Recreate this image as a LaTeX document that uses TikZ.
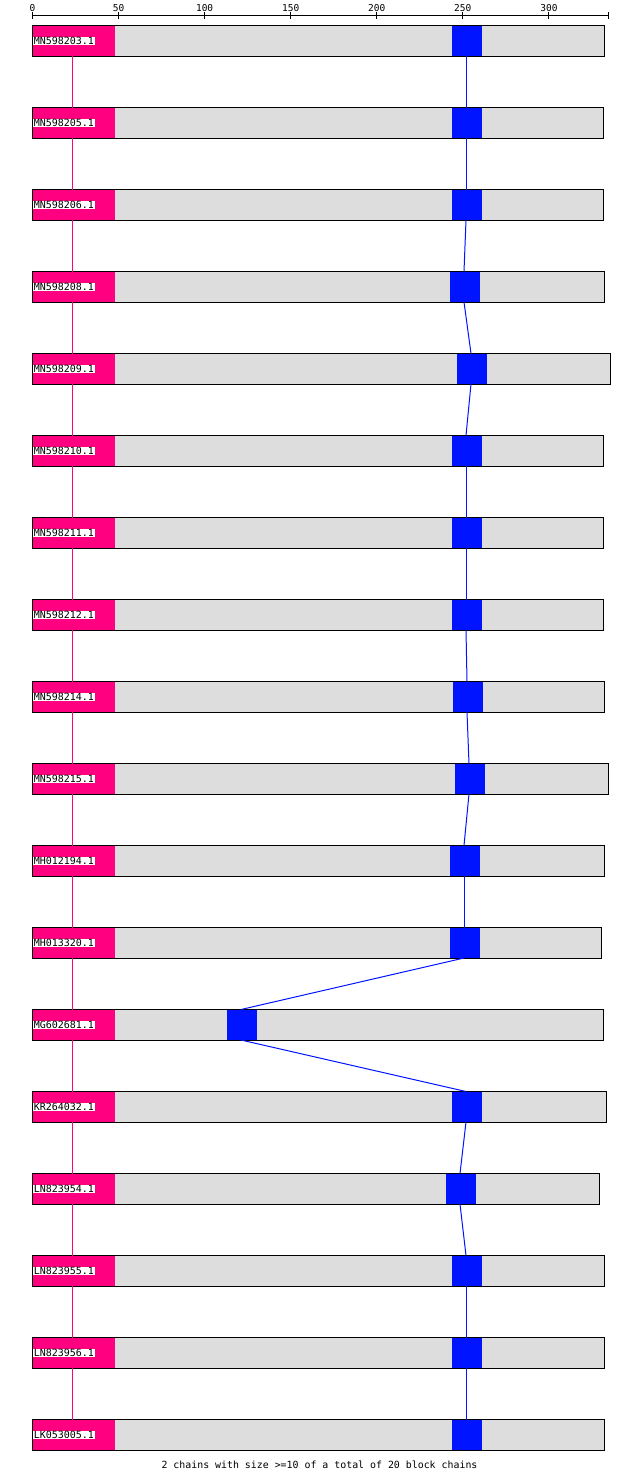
\documentclass[tikz,border=0pt]{standalone}
\usepackage{fontspec}
\setmonofont{DejaVu Sans Mono}
\definecolor{pinkb}{RGB}{255,0,128}
\definecolor{blueb}{RGB}{0,20,255}
\definecolor{grayb}{RGB}{221,221,221}
\begin{document}
\begin{tikzpicture}[x=1pt,y=-1pt,
  barfill/.style={fill=grayb},
  barline/.style={draw=black, line width=1pt},
  pblk/.style={fill=pinkb, inner sep=0pt, outer sep=0pt, minimum width=82pt, minimum height=30pt, anchor=north west},
  bblk/.style={fill=blueb, inner sep=0pt, outer sep=0pt, minimum width=30pt, minimum height=30pt, anchor=north west},
  lab/.style={fill=white, inner sep=0.6pt, font=\ttfamily\fontsize{10}{10}\selectfont, anchor=west},
  rlab/.style={inner sep=0pt, font=\ttfamily\fontsize{9.5}{9.5}\selectfont},
  pchain/.style={draw=pinkb, line width=1pt},
  bchain/.style={draw=blueb, line width=1pt},
  note/.style={inner sep=0pt, font=\ttfamily\fontsize{9.9}{9.9}\selectfont}]
\useasboundingbox (0,0) rectangle (640,1476);
\fill[white] (0,0) rectangle (640,1476);
% ruler
\draw[line width=1pt] (32.5,15.5) -- (608.5,15.5);
\foreach \u in {0,50,...,300} {
  \draw[line width=1pt] ({32.5+1.7213*\u},12) -- ({32.5+1.7213*\u},19);
  \node[rlab] (r\u) at ({32.5+1.7213*\u},8) {\u};
}
\draw[line width=1pt] (608.5,12) -- (608.5,19);
% bars
\foreach \i/\nm/\bl/\r in {1/MN598203.1/452/604.5, 2/MN598205.1/452/603.5, 3/MN598206.1/452/603.5,
  4/MN598208.1/450/604.5, 5/MN598209.1/457/610.5, 6/MN598210.1/452/603.5, 7/MN598211.1/452/603.5,
  8/MN598212.1/452/603.5, 9/MN598214.1/453/604.5, 10/MN598215.1/455/608.5, 11/MH012194.1/450/604.5,
  12/MH013320.1/450/601.5, 13/MG602681.1/227/603.5, 14/KR264032.1/452/606.5, 15/LN823954.1/446/599.5,
  16/LN823955.1/452/604.5, 17/LN823956.1/452/604.5, 18/LK053005.1/452/604.5} {
  \pgfmathsetmacro\t{25.5+82*(\i-1)}
  \fill[barfill] (32.5,\t) rectangle (\r,\t+31);
  \node[pblk] (pk\i) at (33,\t+0.5) {};
  \node[bblk] (bk\i) at (\bl,\t+0.5) {};
  \node[lab] (lb\i) at (33,\t+15.5) {\nm};
  \draw[barline] (32.5,\t) rectangle (\r,\t+31);
}
% chains
\foreach \i [evaluate=\i as \j using int(\i+1)] in {1,...,17} {
  \draw[pchain] ([xshift=-1.5pt]pk\i.south) -- ([xshift=-1.5pt,yshift=0.5pt]pk\j.north);
  \draw[bchain] ([xshift=-1pt]bk\i.south) -- ([xshift=-1pt,yshift=0.5pt]bk\j.north);
}
\node[note] (nt) at (319.5,1464.5) {2 chains with size >=10 of a total of 20 block chains};
\end{tikzpicture}
\end{document}
